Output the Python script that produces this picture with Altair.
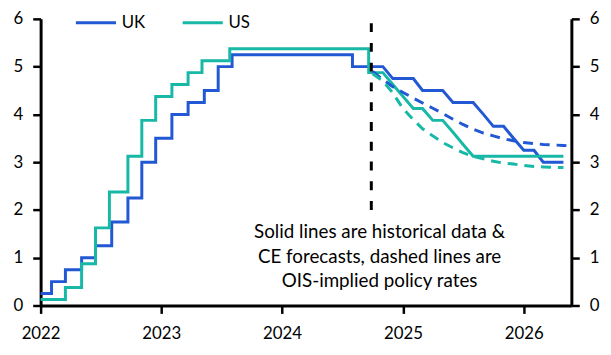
import altair as alt
import pandas as pd

BLUE = "#2258D4"
TEAL = "#17B8A6"
FONT = "Lato"

# ---- historical policy rates (change dates) ----
uk_hist_dates = ["2022-01-01", "2022-02-03", "2022-03-17", "2022-05-05", "2022-06-16",
                 "2022-08-04", "2022-09-22", "2022-11-03", "2022-12-15", "2023-02-02",
                 "2023-03-23", "2023-05-11", "2023-06-22", "2023-08-03", "2024-08-01",
                 "2024-10-01"]
uk_hist_vals = [0.25, 0.5, 0.75, 1.0, 1.25, 1.75, 2.25, 3.0, 3.5, 4.0,
                4.25, 4.5, 5.0, 5.25, 5.0, 5.0]

us_hist_dates = ["2022-01-01", "2022-03-17", "2022-05-05", "2022-06-16", "2022-07-28",
                 "2022-09-22", "2022-11-03", "2022-12-15", "2023-02-02", "2023-03-23",
                 "2023-05-04", "2023-07-27", "2024-09-19", "2024-10-01"]
us_hist_vals = [0.125, 0.375, 0.875, 1.625, 2.375, 3.125, 3.875, 4.375, 4.625, 4.875,
                5.125, 5.375, 4.875, 4.875]

# ---- CE forecasts (monthly) ----
fc_dates = ["2024-10-01", "2024-11-01", "2024-12-01", "2025-01-01", "2025-02-01",
            "2025-03-01", "2025-04-01", "2025-05-01", "2025-06-01", "2025-07-01",
            "2025-08-01", "2025-09-01", "2025-10-01", "2025-11-01", "2025-12-01",
            "2026-01-01", "2026-02-01", "2026-03-01", "2026-04-01", "2026-05-01"]
uk_fc_vals = [5.0, 5.0, 4.75, 4.75, 4.75, 4.5, 4.5, 4.5, 4.25, 4.25,
              4.25, 4.0, 3.75, 3.75, 3.5, 3.25, 3.25, 3.0, 3.0, 3.0]
us_fc_vals = [4.875, 4.875, 4.625, 4.375, 4.125, 4.125, 3.875, 3.875, 3.625, 3.375,
              3.125, 3.125, 3.125, 3.125, 3.125, 3.125, 3.125, 3.125, 3.125, 3.125]

# ---- OIS-implied policy rates ----
uk_ois_dates = fc_dates + ["2026-05-25"]
uk_ois_vals = [4.90, 4.73, 4.58, 4.46, 4.34, 4.24, 4.13, 4.02, 3.90, 3.79,
               3.69, 3.61, 3.55, 3.49, 3.45, 3.41, 3.39, 3.37, 3.36, 3.35, 3.34]
us_ois_dates = fc_dates
us_ois_vals = [4.85, 4.70, 4.45, 4.12, 3.89, 3.70, 3.55, 3.41, 3.30, 3.20,
               3.12, 3.07, 3.02, 2.98, 2.96, 2.93, 2.91, 2.90, 2.89, 2.89]

note_lines = ["Solid lines are historical data &",
              "CE forecasts, dashed lines are",
              "OIS-implied policy rates"]


def frame(dates, vals, country):
    return pd.DataFrame({"date": [d + "T00:00:00" for d in dates],
                         "value": vals, "country": country})


hist = pd.concat([frame(uk_hist_dates, uk_hist_vals, "UK"),
                  frame(us_hist_dates, us_hist_vals, "US")])
fc = pd.concat([frame(fc_dates, uk_fc_vals, "UK"),
                frame(fc_dates, us_fc_vals, "US")])
ois = pd.concat([frame(uk_ois_dates, uk_ois_vals, "UK"),
                 frame(us_ois_dates, us_ois_vals, "US")])
rule_df = pd.DataFrame({"date": ["2024-09-27T00:00:00"], "lo": [2], "hi": [6]})
note_df = pd.DataFrame({"date": ["2024-10-22T00:00:00"] * 3,
                        "value": [1.543, 1.016, 0.514],
                        "text": note_lines})

xscale = alt.Scale(domain=[alt.DateTime(year=2022, month=1, date=1),
                           alt.DateTime(year=2026, month=5, date=25)])
yscale = alt.Scale(domain=[0, 6], nice=False)
cscale = alt.Scale(domain=["UK", "US"], range=[BLUE, TEAL])

axis_style = dict(domainColor="black", domainWidth=3, tickColor="black", tickWidth=2.5,
                  tickSize=8, labelColor="black", labelFont=FONT, labelFontSize=17,
                  grid=False, title=None)

x_axis = alt.Axis(values=[alt.DateTime(year=y, month=1, date=1) for y in range(2022, 2027)],
                  format="%Y", labelFlush=False, labelPadding=12, **axis_style)
y_left = alt.Axis(orient="left", values=[0, 1, 2, 3, 4, 5, 6], labelPadding=10, **axis_style)
y_right = alt.Axis(orient="right", values=[0, 1, 2, 3, 4, 5, 6], labelPadding=10, **axis_style)

legend = alt.Legend(orient="none", legendX=34, legendY=-18,
                    direction="horizontal", title=None,
                    symbolType="stroke", symbolSize=1650,
                    symbolStrokeWidth=3, labelFont=FONT,
                    labelFontSize=17, labelColor="black",
                    labelOffset=4, columnPadding=31, padding=0)

X = alt.X("date:T", scale=xscale, axis=x_axis)
C = alt.Color("country:N", scale=cscale, legend=legend)

hist_layer = alt.Chart(hist).mark_line(interpolate="step-after", strokeWidth=3).encode(
    x=X,
    y=alt.Y("value:Q", scale=yscale, axis=y_left),
    color=C,
)

fc_layer = alt.Chart(fc).mark_line(strokeWidth=3).encode(
    x=X,
    y=alt.Y("value:Q", scale=yscale, axis=y_right),
    color=C,
)

ois_layer = alt.Chart(ois).mark_line(strokeWidth=3, strokeDash=[10, 7]).encode(
    x=X,
    y=alt.Y("value:Q", scale=yscale, axis=None),
    color=C,
)

rule_layer = alt.Chart(rule_df).mark_rule(color="black", strokeWidth=3,
                                          strokeDash=[9, 11]).encode(
    x=X,
    y=alt.Y("lo:Q", scale=yscale, axis=None),
    y2="hi:Q",
)

note_layer = alt.Chart(note_df).mark_text(font=FONT, fontSize=19, color="black",
                                          align="center", baseline="middle").encode(
    x=X,
    y=alt.Y("value:Q", scale=yscale, axis=None),
    text="text:N",
)

chart = alt.layer(hist_layer, fc_layer, ois_layer, rule_layer, note_layer).resolve_axis(
    y="independent"
).properties(
    width=537, height=290,
    autosize=alt.AutoSizeParams(type="none"),
    padding={"left": 33, "top": 9, "right": 32, "bottom": 40},
).configure_view(stroke=None)

chart.save("out.html", embed_options={"renderer": "svg", "actions": False})
